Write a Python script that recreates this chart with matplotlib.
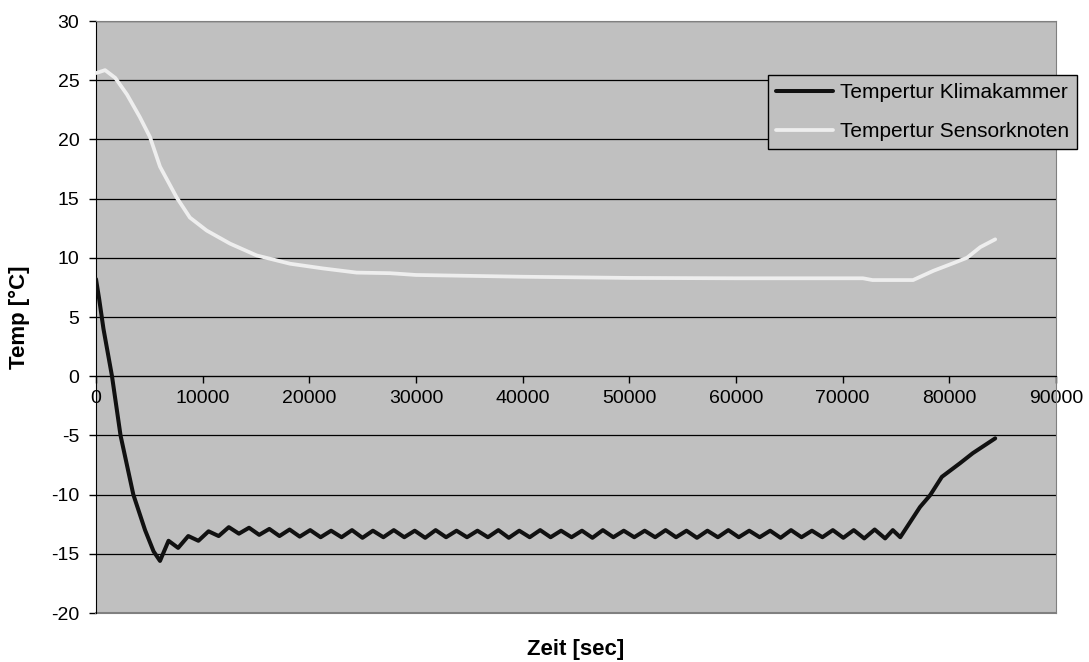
import matplotlib
matplotlib.use("Agg")
import matplotlib.pyplot as plt

# Tempertur Klimakammer (time in sec, temperature in degC)
klima_t = [0, 300, 700, 1500, 2300, 3500, 4600, 5400, 6000,
           6800, 7700, 8650, 9600, 10550, 11500, 12450, 13400, 14350, 15300,
           16250, 17200, 18150, 19100,
           20080, 21060, 22040, 23020, 24000, 24980, 25960, 26940, 27920, 28900,
           29880, 30860, 31840, 32820, 33800, 34780, 35760, 36740, 37720, 38700,
           39680, 40660, 41640, 42620, 43600, 44580, 45560, 46540, 47520, 48500,
           49480, 50460, 51440, 52420, 53400, 54380, 55360, 56340, 57320, 58300,
           59280, 60260, 61240, 62220, 63200, 64180, 65160, 66140, 67120, 68100,
           69080, 70060, 71040, 72020, 73000, 73980, 74700, 75400,
           77250, 78200, 79300, 81000, 82200, 84300]
klima_v = [8.2, 6.5, 4.0, 0.0, -5.0, -10.0, -13.0, -14.8, -15.6,
           -13.9, -14.5, -13.5, -13.9, -13.1, -13.5, -12.75, -13.3, -12.8, -13.4,
           -12.9, -13.5, -12.95, -13.55,
           -13.0, -13.6, -13.05, -13.6, -13.0, -13.65, -13.05, -13.6, -13.0, -13.6,
           -13.05, -13.65, -13.0, -13.6, -13.05, -13.6, -13.05, -13.6, -13.0, -13.65,
           -13.05, -13.6, -13.0, -13.6, -13.05, -13.6, -13.05, -13.65, -13.0, -13.6,
           -13.05, -13.6, -13.05, -13.6, -13.0, -13.6, -13.05, -13.65, -13.05, -13.6,
           -13.0, -13.6, -13.05, -13.6, -13.05, -13.65, -13.0, -13.6, -13.05, -13.6,
           -13.0, -13.65, -13.0, -13.7, -12.95, -13.7, -13.0, -13.6,
           -11.05, -10.05, -8.5, -7.35, -6.5, -5.25]

# Tempertur Sensorknoten
sensor_t = [0, 850, 1800, 2900, 4100, 5060, 6000, 7560, 8800, 10380, 12560,
            15060, 18190, 21300, 24440, 27560, 30000, 40000, 50000, 60000,
            71900, 72800, 76600, 78500, 80350, 81650, 82900, 84300]
sensor_v = [25.6, 25.85, 25.2, 23.8, 21.9, 20.2, 17.7, 15.1, 13.4, 12.3, 11.2,
            10.2, 9.5, 9.1, 8.75, 8.7, 8.55, 8.4, 8.3, 8.27,
            8.27, 8.12, 8.12, 8.9, 9.54, 10.0, 10.9, 11.56]

x_ticks = [0, 10000, 20000, 30000, 40000, 50000, 60000, 70000, 80000, 90000]
y_ticks = [-20, -15, -10, -5, 0, 5, 10, 15, 20, 25, 30]

plt.rcParams["font.family"] = ["Liberation Sans", "DejaVu Sans"]
fs = 14

fig = plt.figure(figsize=(10.89, 6.62), dpi=100)
ax = fig.add_axes([96 / 1089, 1 - 613 / 662, (1056 - 96) / 1089, (613 - 21) / 662])
ax.set_facecolor("#C0C0C0")

ax.plot(klima_t, klima_v, color="#111111", lw=2.9, solid_joinstyle="round",
        solid_capstyle="round", label="Tempertur Klimakammer", zorder=3)
ax.plot(sensor_t, sensor_v, color="#EEEEEE", lw=2.7, solid_joinstyle="round",
        solid_capstyle="round", label="Tempertur Sensorknoten", zorder=3)

ax.set_xlim(0, 90000)
ax.set_ylim(-20, 30)
ax.set_xticks(x_ticks)
ax.set_yticks(y_ticks)
ax.set_xticklabels([str(v) for v in x_ticks])
ax.set_yticklabels([str(v) for v in y_ticks])
ax.yaxis.grid(True, color="#000000", lw=0.9)
ax.set_axisbelow(True)

ax.spines["bottom"].set_position(("data", 0))
ax.spines["left"].set_color("black")
ax.spines["bottom"].set_color("black")
for s in ["top", "right"]:
    ax.spines[s].set_color("#808080")
ax.axhline(-20, color="#808080", lw=1.5, clip_on=False)
ax.tick_params(axis="both", direction="out", length=5, width=1, labelsize=fs,
               colors="black")
ax.tick_params(axis="y", pad=7)
ax.tick_params(axis="x", pad=5)

fig.text(576 / 1089, 1 - 650 / 662, "Zeit [sec]", ha="center", va="center",
         fontsize=16, fontweight="bold")
fig.text(19 / 1089, 1 - 317 / 662, "Temp [°C]", ha="center", va="center",
         rotation=90, fontsize=16, fontweight="bold")

leg = ax.legend(loc="upper right", bbox_to_anchor=(1077 / 1089, 1 - 75 / 662),
                bbox_transform=fig.transFigure, borderaxespad=0, fontsize=15,
                fancybox=False, framealpha=1, facecolor="#C0C0C0",
                edgecolor="black", handlelength=2.75, handletextpad=0.3,
                labelspacing=0.95, borderpad=0.4)
leg.get_frame().set_linewidth(1.0)
leg.set_zorder(5)

fig.savefig("out.png", dpi=100)
